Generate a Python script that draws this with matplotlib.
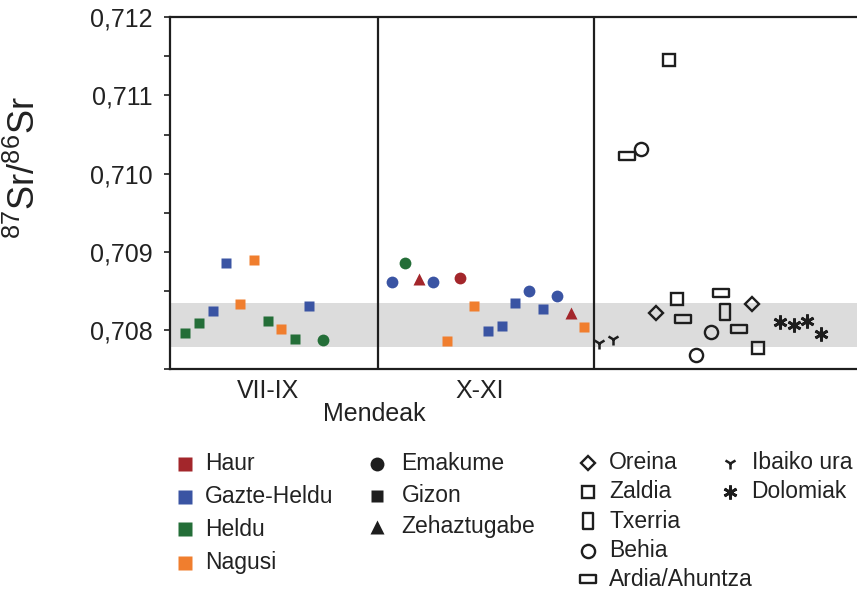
import matplotlib
matplotlib.use("Agg")
from matplotlib import pyplot as plt
from matplotlib.path import Path
from matplotlib.lines import Line2D

plt.rcParams['font.family'] = ['Liberation Sans', 'DejaVu Sans']
plt.rcParams['mathtext.default'] = 'regular'

# human samples, ordered as plotted along x
human_pos = [1, 2, 3, 4, 5, 6, 7, 8, 9, 10, 11,
             16, 17, 18, 19, 20, 21, 22, 23, 24, 25, 26, 27, 28, 29, 30]
human_val = [0.707965, 0.708086, 0.708240, 0.708859, 0.708329, 0.708897,
             0.708112, 0.708009, 0.707881, 0.708304, 0.707872,
             0.708612, 0.708855, 0.708654, 0.708612, 0.707863, 0.708667,
             0.708304, 0.707991, 0.708055, 0.708342, 0.708500, 0.708265,
             0.708432, 0.708222, 0.708042]
human_age = ['Heldu', 'Heldu', 'Gazte-Heldu', 'Gazte-Heldu', 'Nagusi', 'Nagusi',
             'Heldu', 'Nagusi', 'Heldu', 'Gazte-Heldu', 'Heldu',
             'Gazte-Heldu', 'Heldu', 'Haur', 'Gazte-Heldu', 'Nagusi', 'Haur',
             'Nagusi', 'Gazte-Heldu', 'Gazte-Heldu', 'Gazte-Heldu', 'Gazte-Heldu',
             'Gazte-Heldu', 'Gazte-Heldu', 'Haur', 'Nagusi']
human_sex = ['Gizon'] * 10 + ['Emakume'] + \
            ['Emakume', 'Emakume', 'Zehaztugabe', 'Emakume', 'Gizon', 'Emakume',
             'Gizon', 'Gizon', 'Gizon', 'Gizon', 'Emakume', 'Gizon', 'Emakume',
             'Zehaztugabe', 'Gizon']

# fauna and reference samples
oreina_pos, oreina_val = [35.2, 42.2], [0.708222, 0.708337]
zaldia_pos, zaldia_val = [36.13, 36.75, 42.6], [0.711452, 0.708394, 0.707773]
txerria_pos, txerria_val = [40.2], [0.708227]
behia_pos, behia_val = [34.1, 38.1, 39.2], [0.710321, 0.707676, 0.707978]
ardia_pos, ardia_val = [33.08, 37.2, 39.93, 41.2], [0.710222, 0.708145, 0.708478, 0.708017]
ibai_pos, ibai_val = [31.07, 32.06], [0.707837, 0.707881]
dolomia_pos, dolomia_val = [44.2, 45.2, 46.2, 47.2], [0.708103, 0.708060, 0.708119, 0.707949]

local_range = (0.70778, 0.70835)
period_labels = ['VII-IX', 'X-XI']
period_label_pos = [7.05, 22.4]
dividers = [15.02, 30.7]

age_colors = {'Haur': '#a3262b', 'Gazte-Heldu': '#3a54a3',
              'Heldu': '#246e38', 'Nagusi': '#f07e2e'}
sex_markers = {'Emakume': 'o', 'Gizon': 's', 'Zehaztugabe': '^'}
sex_sizes = {'Emakume': 8.5, 'Gizon': 7.3, 'Zehaztugabe': 8.5}

ink = '#1e1e1e'
txt = '#222222'
hbox = Path([(-1, -0.55), (1, -0.55), (1, 0.55), (-1, 0.55), (-1, -0.55)],
            [1, 2, 2, 2, 79])
vbox = Path([(-0.6, -1), (0.6, -1), (0.6, 1), (-0.6, 1), (-0.6, -1)],
            [1, 2, 2, 2, 79])
asterisk = (6, 2, 0)

fauna = [
    ('Oreina', oreina_pos, oreina_val, 'D', 7.5, 1.7),
    ('Zaldia', zaldia_pos, zaldia_val, 's', 8, 1.7),
    ('Txerria', txerria_pos, txerria_val, vbox, 11, 1.7),
    ('Behia', behia_pos, behia_val, 'o', 9.5, 1.7),
    ('Ardia/Ahuntza', ardia_pos, ardia_val, hbox, 11, 1.7),
    ('Ibaiko ura', ibai_pos, ibai_val, '1', 9, 1.8),
    ('Dolomiak', dolomia_pos, dolomia_val, asterisk, 10, 2.0),
]

W, H = 857, 591
fig = plt.figure(figsize=(W / 100, H / 100), dpi=100)
ax = fig.add_axes([170 / W, 1 - 369 / H, 1 - 170 / W, (369 - 17.3) / H])

ax.axhspan(local_range[0], local_range[1], color='#dcdcdc', lw=0, zorder=0)
for d in dividers:
    ax.axvline(d, color=ink, lw=1.6, zorder=1)

for x, v, a, s in zip(human_pos, human_val, human_age, human_sex):
    ax.plot(x, v, marker=sex_markers[s], ms=sex_sizes[s], color=age_colors[a],
            mec='none', ls='none', zorder=3)

for name, xs, vs, m, ms, mew in fauna:
    filled = m in ('1', asterisk)
    ax.plot(xs, vs, marker=m, ms=ms, mew=mew, ls='none', zorder=3,
            mec=ink, mfc=ink if filled else 'none', color=ink)

ax.set_xlim(-0.09, 49.8)
ax.set_ylim(0.7075, 0.712)
ax.set_yticks([0.708, 0.709, 0.710, 0.711, 0.712])
ax.set_yticklabels(['0,708', '0,709', '0,710', '0,711', '0,712'])
ax.set_yticks([0.7075, 0.7085, 0.7095, 0.7105, 0.7115], minor=True)
ax.tick_params(axis='y', which='both', direction='out', length=4.3, width=1.2,
               color=ink, labelsize=18, pad=8, labelcolor=txt)
ax.set_xticks(period_label_pos)
ax.set_xticklabels(period_labels)
ax.tick_params(axis='x', length=0, labelsize=18, pad=7, labelcolor=txt)
ax.spines['right'].set_visible(False)
for side in ('left', 'top', 'bottom'):
    ax.spines[side].set_linewidth(1.6)
    ax.spines[side].set_color(ink)

fig.text(374 / W, 1 - 414 / H, 'Mendeak', fontsize=18, ha='center', va='center',
         color=txt)
fig.text(25 / W, 1 - 168 / H, '$^{87}$Sr/$^{86}$Sr', fontsize=26, rotation=90,
         ha='center', va='center', color=txt)


def legend_entry(xm, xt, y, label, **style):
    fy = 1 - y / H
    fig.add_artist(Line2D([xm / W], [fy], transform=fig.transFigure,
                          ls='none', **style))
    fig.text(xt / W, fy, label, fontsize=16.5, ha='left', va='center',
             color=txt)


rows1 = [464, 496.5, 529, 562.5]
for y, age in zip(rows1, age_colors):
    legend_entry(184.5, 205, y, age, marker='s', ms=10, color=age_colors[age],
                 mec='none')

rows2 = [464, 495.5, 527]
legend_sizes = {'Emakume': 10, 'Gizon': 8.5, 'Zehaztugabe': 10}
for y, sex in zip(rows2, sex_markers):
    legend_entry(376.7, 401.5, y, sex, marker=sex_markers[sex],
                 ms=legend_sizes[sex], color=ink, mec='none')

rows3 = [462.7, 492, 521, 550.5, 579]
for y, (name, xs, vs, m, ms, mew) in zip(rows3, fauna[:5]):
    legend_entry(588.3, 609, y, name, marker=m, ms=ms, mew=mew, mec=ink,
                 mfc='none')

rows4 = [462.7, 492]
for y, (name, xs, vs, m, ms, mew) in zip(rows4, fauna[5:]):
    legend_entry(730, 751.5, y, name, marker=m, ms=ms, mew=mew, mec=ink,
                 mfc=ink)

fig.savefig('out.png', dpi=100)
